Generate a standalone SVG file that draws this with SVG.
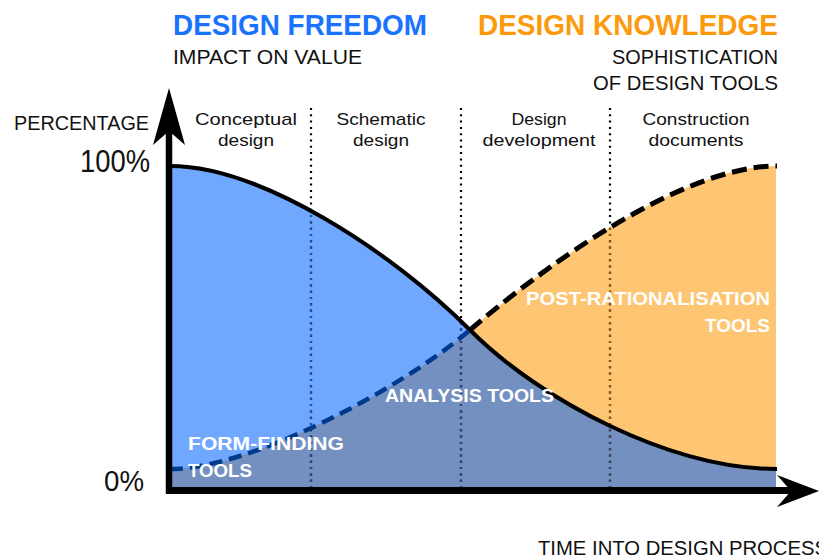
<svg xmlns="http://www.w3.org/2000/svg" xmlns:xlink="http://www.w3.org/1999/xlink" width="819" height="560" viewBox="0 0 819 560">
<style>
.t{font-family:"Liberation Sans",Arial,sans-serif;fill:#111}
.b{font-weight:bold}
.w{fill:#fff;font-weight:bold;font-size:19px}
.ph{font-size:17px;text-anchor:middle}
.dot{stroke-width:2.2;stroke-dasharray:2 4.3;fill:none}
</style>
<defs>
<path id="rBlue" d="M170,166 C260,166 390,250 470,330 L470,488 L170,488 Z"/>
<path id="rOrange" d="M470,330 C540,270 680,166 776,166 L776,488 L470,488 Z"/>
<path id="rGrey" d="M170,469 C250,469 400,390 470,330 C540,400 670,469 776,469 L776,488 L170,488 Z"/>
<clipPath id="cBlue"><use xlink:href="#rBlue"/></clipPath>
<clipPath id="cOrange"><use xlink:href="#rOrange"/></clipPath>
<clipPath id="cGrey"><use xlink:href="#rGrey"/></clipPath>
<g id="dotlines">
<line x1="311" y1="108" x2="311" y2="488"/>
<line x1="461" y1="108" x2="461" y2="488"/>
<line x1="610" y1="108" x2="610" y2="488"/>
</g>
</defs>

<g id="regions">
<use xlink:href="#rBlue" fill="#70a8ff"/>
<use xlink:href="#rOrange" fill="#fec573"/>
<use xlink:href="#rGrey" fill="#7490c0"/>
</g>

<g id="dividers">
<use xlink:href="#dotlines" class="dot" stroke="#000"/>
<g clip-path="url(#cBlue)"><use xlink:href="#dotlines" class="dot" stroke="#1f50a8"/></g>
<g clip-path="url(#cOrange)"><use xlink:href="#dotlines" class="dot" stroke="#8f5a18"/></g>
<g clip-path="url(#cGrey)"><use xlink:href="#dotlines" class="dot" stroke="#2c4675"/></g>
</g>

<g id="connectors">
<path id="freedom-curve" d="M170,166 C260,166 390,250 470,330 C540,400 670,469 777,469" fill="none" stroke="#000" stroke-width="4"/>
<path id="knowledge-curve-blue" d="M170,469 C250,469 400,390 470,330" fill="none" stroke="#003a8c" stroke-width="4.5" stroke-dasharray="13 7"/>
<path id="knowledge-curve-black" d="M470,330 C540,270 680,166 777,166" fill="none" stroke="#000" stroke-width="5" stroke-dasharray="15 7"/>
</g>

<g id="axes">
<line x1="169" y1="128" x2="169" y2="494" stroke="#000" stroke-width="6.5"/>
<line x1="166" y1="490.5" x2="792" y2="490.5" stroke="#000" stroke-width="7"/>
<polygon points="169,88 185,145 169,131 153,145" fill="#000"/>
<polygon points="819,491 777,475 791,491 777,507" fill="#000"/>
</g>

<g id="titles">
<text class="t b" x="173" y="35" font-size="29" style="fill:#1a73ff" textLength="254" lengthAdjust="spacingAndGlyphs">DESIGN FREEDOM</text>
<text class="t" x="173" y="64" font-size="21" textLength="189" lengthAdjust="spacingAndGlyphs">IMPACT ON VALUE</text>
<text class="t b" x="478" y="35" font-size="29" style="fill:#fd9a0c" textLength="300" lengthAdjust="spacingAndGlyphs">DESIGN KNOWLEDGE</text>
<text class="t" x="612" y="64" font-size="21" textLength="166" lengthAdjust="spacingAndGlyphs">SOPHISTICATION</text>
<text class="t" x="593" y="90" font-size="21" textLength="185" lengthAdjust="spacingAndGlyphs">OF DESIGN TOOLS</text>
</g>

<g id="axis-labels">
<text class="t" x="14" y="130" font-size="20" textLength="135" lengthAdjust="spacingAndGlyphs">PERCENTAGE</text>
<text class="t" x="80" y="172" font-size="31" textLength="70" lengthAdjust="spacingAndGlyphs">100%</text>
<text class="t" x="104" y="491" font-size="29" textLength="40" lengthAdjust="spacingAndGlyphs">0%</text>
<text class="t" x="538" y="555" font-size="20" textLength="290" lengthAdjust="spacingAndGlyphs">TIME INTO DESIGN PROCESS</text>
</g>

<g id="phase-conceptual">
<text class="t ph" x="246" y="124.5" textLength="102" lengthAdjust="spacingAndGlyphs">Conceptual</text>
<text class="t ph" x="246" y="145.5" textLength="56" lengthAdjust="spacingAndGlyphs">design</text>
</g>
<g id="phase-schematic">
<text class="t ph" x="381" y="124.5" textLength="89" lengthAdjust="spacingAndGlyphs">Schematic</text>
<text class="t ph" x="381" y="145.5" textLength="56" lengthAdjust="spacingAndGlyphs">design</text>
</g>
<g id="phase-development">
<text class="t ph" x="539" y="124.5" textLength="55" lengthAdjust="spacingAndGlyphs">Design</text>
<text class="t ph" x="539" y="145.5" textLength="113" lengthAdjust="spacingAndGlyphs">development</text>
</g>
<g id="phase-construction">
<text class="t ph" x="696" y="124.5" textLength="107" lengthAdjust="spacingAndGlyphs">Construction</text>
<text class="t ph" x="696" y="145.5" textLength="95" lengthAdjust="spacingAndGlyphs">documents</text>
</g>

<g id="tool-labels">
<text class="t w" x="188" y="450" textLength="156" lengthAdjust="spacingAndGlyphs">FORM-FINDING</text>
<text class="t w" x="188" y="477" textLength="64" lengthAdjust="spacingAndGlyphs">TOOLS</text>
<text class="t w" x="385" y="402" textLength="169" lengthAdjust="spacingAndGlyphs">ANALYSIS TOOLS</text>
<text class="t w" x="526" y="305" textLength="244" lengthAdjust="spacingAndGlyphs">POST-RATIONALISATION</text>
<text class="t w" x="705" y="332" textLength="65" lengthAdjust="spacingAndGlyphs">TOOLS</text>
</g>
</svg>
